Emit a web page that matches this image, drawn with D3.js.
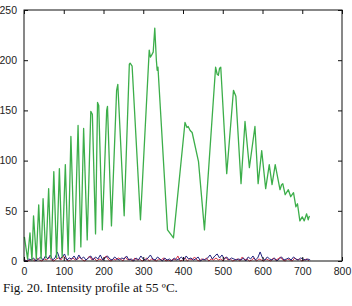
<!DOCTYPE html>
<html>
<head>
<meta charset="utf-8">
<script src="https://cdn.jsdelivr.net/npm/d3@7"></script>
<style>
  body { margin: 0; background: #fff; }
  .tick text { font-family: "Liberation Sans", Arial, sans-serif; font-size: 10.5px; fill: #222; }
  .caption { font-family: "Liberation Serif", "Times New Roman", serif; font-size: 13px; fill: #111; }
</style>
</head>
<body>
<svg id="chart" width="352" height="306"></svg>
<script>
// green profile (position, intensity)
const greenX = [1, 9, 15, 20, 24, 31, 37, 43, 48, 55, 62, 68, 75, 82, 89, 96, 104, 111, 118, 127,
  136, 143, 150, 159, 168, 172, 180, 185, 188, 197, 208, 210, 220, 233, 236, 252, 265, 267, 272, 293,
  315, 318, 321, 325, 329, 333, 335, 337, 361, 376, 405, 410, 413, 418, 423, 439, 454, 482, 486, 489,
  492, 495, 510, 527, 533, 546, 556, 567, 581, 589, 598, 608, 617, 624, 632, 644, 648, 651, 657, 665,
  671, 678, 684, 688, 694, 700, 705, 711, 715, 718];
const greenY = [24, 2, 28, 1, 45, 2, 56, 2, 62, 3, 72, 3, 89, 3, 92, 4, 96, 6, 124, 9,
  135, 14, 132, 21, 149, 146, 27, 158, 155, 31, 150, 154, 35, 170, 176, 45, 196, 197, 194, 41,
  210, 203, 205, 208, 232, 200, 190, 193, 31, 23, 138, 133, 134, 130, 128, 99, 31, 193, 186, 185,
  192, 193, 87, 170, 164, 77, 139, 93, 134, 77, 110, 72, 96, 76, 96, 71, 76, 77, 66, 71,
  64, 68, 54, 57, 40, 44, 40, 47, 41, 45];

// low blue and red traces, sampled every 6 units
const blueValues = [1, 0, 2, 1, 3, 0, 2, 4, 1, 5,
  2, 6, 1, 3, 9, 2, 4, 7, 1, 3,
  2, 5, 1, 6, 2, 4, 1, 3, 5, 1,
  4, 2, 6, 1, 3, 5, 2, 1, 4, 2,
  1, 3, 2, 5, 1, 2, 0, 3, 1, 5,
  2, 1, 3, 6, 2, 1, 4, 2, 0, 3,
  1, 2, 0, 3, 1, 2, 4, 1, 5, 2,
  3, 1, 2, 4, 0, 2, 1, 3, 6, 2,
  5, 7, 3, 6, 2, 4, 1, 3, 2, 1,
  2, 1, 3, 0, 4, 2, 5, 1, 3, 9,
  3, 1, 4, 2, 1, 3, 0, 2, 4, 1,
  2, 3, 1, 4, 2, 1, 3, 2, 1, 2, 1];
const redValues = [1, 0, 1, 2, 0, 3, 1, 0, 2, 1,
  4, 1, 0, 2, 3, 1, 5, 2, 0, 1,
  3, 1, 2, 4, 1, 0, 2, 5, 1, 3,
  0, 2, 1, 3, 5, 1, 0, 2, 1, 3,
  2, 0, 4, 1, 2, 0, 3, 1, 2, 0,
  1, 3, 0, 2, 1, 0, 2, 1, 3, 0,
  1, 0, 2, 1, 5, 0, 1, 3, 0, 2,
  1, 4, 1, 0, 2, 1, 3, 0, 2, 1,
  3, 1, 2, 0, 4, 1, 2, 0, 1, 2,
  0, 4, 1, 2, 0, 1, 3, 0, 2, 1,
  0, 2, 1, 0, 3, 1, 2, 4, 1, 0,
  2, 1, 0, 3, 1, 2, 0, 1, 2, 0];

const xTicks = [0, 100, 200, 300, 400, 500, 600, 700, 800];
const yTicks = [0, 50, 100, 150, 200, 250];

const margin = {top: 10, right: 10, bottom: 45, left: 24};
const W = 352, H = 306;
const width = W - margin.left - margin.right;
const height = H - margin.top - margin.bottom;

const svg = d3.select('#chart');
const g = svg.append('g').attr('transform', `translate(${margin.left},${margin.top})`);

const x = d3.scaleLinear().domain([0, 800]).range([0, width]);
const y = d3.scaleLinear().domain([0, 250]).range([height, 0]);

const line = d3.line().x(d => x(d[0])).y(d => y(d[1]));

const toPts = (vals, start) => vals.map((v, i) => [start + i * 6, v]);

// traces
g.append('path').datum(toPts(redValues, 3))
  .attr('fill', 'none').attr('stroke', '#d8384a').attr('stroke-width', 1).attr('d', line);
g.append('path').datum(toPts(blueValues, 0))
  .attr('fill', 'none').attr('stroke', '#23237e').attr('stroke-width', 1).attr('d', line);
g.append('path').datum(greenX.map((v, i) => [v, greenY[i]]))
  .attr('fill', 'none').attr('stroke', '#3cae4a').attr('stroke-width', 1.3)
  .attr('stroke-linejoin', 'round').attr('d', line);

// axes, ticks pointing inward like matlab
const tk = 4;
g.append('g').attr('transform', `translate(0,${height})`)
  .call(d3.axisBottom(x).tickValues(xTicks).tickSize(-tk).tickPadding(tk + 3));
g.append('g')
  .call(d3.axisLeft(y).tickValues(yTicks).tickSize(-tk).tickPadding(tk + 3));
g.append('g')
  .call(d3.axisTop(x).tickValues(xTicks).tickSize(-tk).tickFormat(''));
g.append('g').attr('transform', `translate(${width},0)`)
  .call(d3.axisRight(y).tickValues(yTicks).tickSize(-tk).tickFormat(''));

g.selectAll('.domain').remove();
g.selectAll('.tick line').attr('stroke', '#111');
g.append('rect').attr('width', width).attr('height', height)
  .attr('fill', 'none').attr('stroke', '#111').attr('stroke-width', 1);

svg.append('text').attr('class', 'caption').attr('x', 3).attr('y', 292)
  .text('Fig. 20. Intensity profile at 55 ºC.');
</script>
</body>
</html>
